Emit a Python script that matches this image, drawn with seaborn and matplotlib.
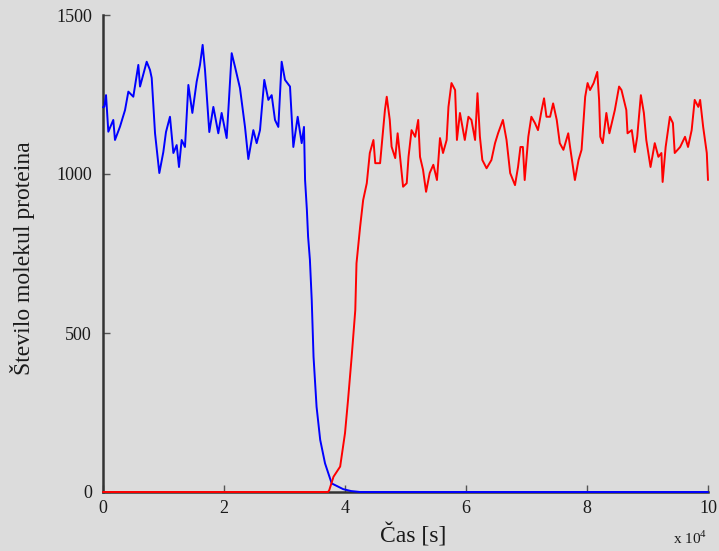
import matplotlib
matplotlib.use("Agg")
import matplotlib.pyplot as plt
import seaborn as sns
import pandas as pd

# time in units of 1e4 s
blue_t = [0.0, 0.022, 0.05, 0.088, 0.17, 0.198, 0.281, 0.364, 0.419, 0.501, 0.584, 0.612,
          0.722, 0.777, 0.805, 0.860, 0.931, 0.997, 1.041, 1.107, 1.163, 1.218, 1.256,
          1.300, 1.355, 1.411, 1.477, 1.548, 1.603, 1.647, 1.686, 1.757, 1.824, 1.906,
          1.961, 2.044, 2.072, 2.127, 2.182, 2.264, 2.347, 2.402, 2.485, 2.540, 2.595,
          2.666, 2.733, 2.788, 2.843, 2.898, 2.953, 3.008, 3.091, 3.146, 3.218, 3.284,
          3.322, 3.34, 3.37, 3.39, 3.42, 3.45, 3.48, 3.53, 3.59, 3.67, 3.78, 3.97,
          4.10, 4.25, 10.0]
blue_v = [1210, 1212, 1248, 1133, 1170, 1107, 1149, 1201, 1259, 1243, 1343, 1275,
          1353, 1327, 1302, 1128, 1003, 1069, 1132, 1180, 1066, 1091, 1022,
          1107, 1085, 1280, 1192, 1290, 1343, 1406, 1327, 1132, 1211, 1128,
          1192, 1113, 1201, 1380, 1337, 1270, 1148, 1047, 1138, 1097, 1138,
          1296, 1233, 1248, 1170, 1148, 1353, 1296, 1275, 1085, 1180, 1097,
          1148, 981, 887, 803, 730, 604, 425, 268, 164, 90, 27, 9,
          3, 0, 0]

red_t = [0.0, 3.72, 3.74, 3.81, 3.92, 4.00, 4.05, 4.11, 4.17, 4.19, 4.25, 4.30, 4.36,
         4.41, 4.47, 4.50, 4.58, 4.61, 4.66, 4.69, 4.74, 4.77, 4.83, 4.87, 4.91, 4.96,
         5.02, 5.05, 5.10, 5.16, 5.21, 5.24, 5.29, 5.34, 5.40, 5.46, 5.52, 5.57, 5.62,
         5.68, 5.71, 5.76, 5.82, 5.85, 5.90, 5.98, 6.04, 6.09, 6.15, 6.19, 6.23, 6.27,
         6.34, 6.42, 6.48, 6.53, 6.61, 6.67, 6.73, 6.81, 6.86, 6.90, 6.94, 6.97, 7.03,
         7.08, 7.14, 7.19, 7.25, 7.29, 7.33, 7.39, 7.44, 7.50, 7.55, 7.61, 7.69, 7.72,
         7.80, 7.86, 7.91, 7.97, 8.01, 8.05, 8.11, 8.17, 8.20, 8.22, 8.26, 8.32, 8.37,
         8.46, 8.53, 8.57, 8.65, 8.67, 8.74, 8.79, 8.83, 8.89, 8.94, 8.98, 9.05, 9.12,
         9.18, 9.23, 9.25, 9.30, 9.37, 9.42, 9.45, 9.54, 9.62, 9.67, 9.73, 9.78, 9.84,
         9.87, 9.92, 9.98, 10.0]
red_v = [0, 0, 6, 48, 80, 185, 289, 425, 572, 719, 834, 918, 971,
         1066, 1107, 1034, 1034, 1097, 1201, 1243, 1170, 1086, 1050, 1128, 1054, 960,
         971, 1054, 1138, 1117, 1170, 1054, 1013, 944, 1003, 1029, 981, 1113, 1066,
         1107, 1211, 1286, 1264, 1107, 1192, 1107, 1180, 1170, 1107, 1254, 1117, 1044,
         1018, 1044, 1097, 1128, 1170, 1107, 1003, 965, 1022, 1085, 1085, 981, 1117,
         1180, 1160, 1138, 1201, 1238, 1180, 1180, 1222, 1170, 1097, 1076, 1128, 1085,
         981, 1044, 1076, 1243, 1286, 1264, 1286, 1321, 1233, 1117, 1097, 1192, 1128,
         1201, 1275, 1264, 1201, 1128, 1138, 1069, 1117, 1248, 1192, 1107, 1022, 1097,
         1054, 1066, 975, 1085, 1180, 1160, 1066, 1085, 1117, 1085, 1138, 1233, 1211,
         1233, 1148, 1066, 981]

xticks = [0, 2, 4, 6, 8, 10]
yticks = [0, 500, 1000, 1500]

sns.set_style("ticks")
bg = "#dcdcdc"
plt.rcParams["font.family"] = ["Liberation Serif", "DejaVu Serif"]
plt.rcParams["mathtext.fontset"] = "custom"
plt.rcParams["mathtext.rm"] = "Liberation Serif"

fig = plt.figure(figsize=(7.19, 5.51), dpi=100, facecolor=bg)
ax = fig.add_axes([103 / 719, 1 - 492 / 551, (708 - 103) / 719, (492 - 15) / 551])
ax.set_facecolor(bg)

blue_df = pd.DataFrame({"t": blue_t, "v": blue_v})
red_df = pd.DataFrame({"t": red_t, "v": red_v})
sns.lineplot(data=blue_df, x="t", y="v", ax=ax, color="#0000ff", lw=1.4, sort=False,
             estimator=None, clip_on=False, zorder=3)
sns.lineplot(data=red_df, x="t", y="v", ax=ax, color="#ff0000", lw=1.4, sort=False,
             estimator=None, clip_on=False, zorder=4)

ax.set_xlim(0, 10)
ax.set_ylim(0, 1500)
ax.set_xticks(xticks)
ax.set_yticks(yticks)
ax.set_xticklabels([str(t) for t in xticks])
ax.set_yticklabels([str(t) for t in yticks])
ax.tick_params(direction="in", length=5, width=1, color="#555555", labelsize=13,
               labelcolor="#1a1a1a")
ax.tick_params(axis="y", pad=8)
ax.tick_params(axis="x", pad=6)
for s in ["top", "right"]:
    ax.spines[s].set_visible(False)
for s in ["left", "bottom"]:
    ax.spines[s].set_color("#333333")
    ax.spines[s].set_linewidth(1.8)

ax.set_xlabel("Čas [s]", fontsize=17, color="#1a1a1a")
ax.set_ylabel("Število molekul proteina", fontsize=17, color="#1a1a1a")
ax.xaxis.set_label_coords(0.513, -0.065)
ax.yaxis.set_label_coords(-0.112, 0.49)
ax.text(0.998, -0.098, r"x 10$^{4}$", transform=ax.transAxes, ha="right", va="center",
        fontsize=11, color="#1a1a1a")

fig.savefig("out.png", dpi=100, facecolor=bg)
